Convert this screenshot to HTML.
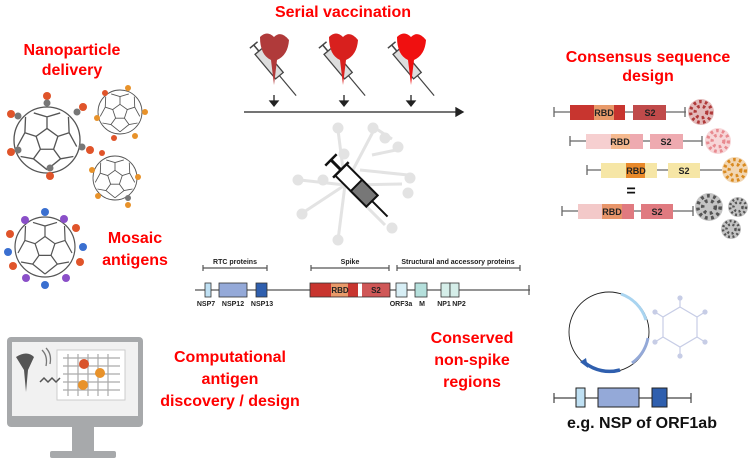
<!DOCTYPE html>
<html><head><meta charset="utf-8"><style>
html,body{margin:0;padding:0;background:#fff}
svg{display:block}
.r{font-family:"Liberation Sans",sans-serif;font-weight:bold;fill:#f00;font-size:16px;text-anchor:middle}
.s{font-family:"Liberation Sans",sans-serif;font-weight:bold;fill:#222;font-size:7px;text-anchor:middle}
.m{font-family:"Liberation Sans",sans-serif;font-weight:bold;fill:#222;font-size:9px;text-anchor:middle}
</style></head><body>
<svg width="750" height="464" viewBox="0 0 750 464" xmlns="http://www.w3.org/2000/svg">
<defs>
<g id="np">
<circle r="1" fill="#fff" stroke="#555" stroke-width="0.04"/>
<polygon points="0,-0.35 0.33,-0.11 0.2,0.28 -0.2,0.28 -0.33,-0.11" fill="none" stroke="#555" stroke-width="0.04"/>
<path d="M0,-0.35L0,-0.7M0.33,-0.11L0.67,-0.22M0.2,0.28L0.41,0.57M-0.2,0.28L-0.41,0.57M-0.33,-0.11L-0.67,-0.22M0,-0.7L0.4,-0.82M0,-0.7L-0.4,-0.82M0.67,-0.22L0.9,0.2M0.67,-0.22L0.65,-0.7M0.41,0.57L0,0.9M0.41,0.57L0.8,0.5M-0.41,0.57L0,0.9M-0.41,0.57L-0.8,0.5M-0.67,-0.22L-0.9,0.2M-0.67,-0.22L-0.65,-0.7" stroke="#555" stroke-width="0.04" fill="none"/>
</g>
<g id="vir"><circle r="1" fill="currentColor" opacity="0.35"/><circle r="0.8" fill="none" stroke="currentColor" stroke-width="0.25" stroke-dasharray="0.2 0.25"/><circle r="0.45" fill="none" stroke="currentColor" stroke-width="0.25" stroke-dasharray="0.2 0.25"/></g>
</defs>

<!-- titles -->
<text class="r" x="343" y="17">Serial vaccination</text>
<text class="r" x="72" y="55">Nanoparticle</text>
<text class="r" x="72" y="75">delivery</text>
<text class="r" x="648" y="62">Consensus sequence</text>
<text class="r" x="648" y="81">design</text>
<text class="r" x="135" y="243">Mosaic</text>
<text class="r" x="135" y="265">antigens</text>
<text class="r" x="230" y="362">Computational</text>
<text class="r" x="230" y="384">antigen</text>
<text class="r" x="230" y="406">discovery / design</text>
<text class="r" x="472" y="343">Conserved</text>
<text class="r" x="472" y="365">non-spike</text>
<text class="r" x="472" y="387">regions</text>

<!-- nanoparticles -->
<g fill="#666">
<use href="#np" transform="translate(47,140) scale(33)"/>
<use href="#np" transform="translate(120,112) scale(22)"/>
<use href="#np" transform="translate(115,178) scale(22)"/>
<use href="#np" transform="translate(45,247) scale(30)"/>
</g>
<g>
<circle cx="47" cy="96" r="4" fill="#e0542a"/><circle cx="47" cy="103" r="3.5" fill="#777"/>
<circle cx="11" cy="114" r="4" fill="#e0542a"/><circle cx="18" cy="116" r="3.5" fill="#777"/>
<circle cx="83" cy="107" r="4" fill="#e0542a"/><circle cx="77" cy="112" r="3.5" fill="#777"/>
<circle cx="11" cy="152" r="4" fill="#e0542a"/><circle cx="18" cy="150" r="3.5" fill="#777"/>
<circle cx="90" cy="150" r="4" fill="#e0542a"/><circle cx="82" cy="147" r="3.5" fill="#777"/>
<circle cx="50" cy="176" r="4" fill="#e0542a"/><circle cx="50" cy="168" r="3.5" fill="#777"/>
<circle cx="105" cy="93" r="3" fill="#e0542a"/><circle cx="128" cy="88" r="3" fill="#e8922a"/><circle cx="145" cy="112" r="3" fill="#e8922a"/><circle cx="114" cy="138" r="3" fill="#e0542a"/><circle cx="135" cy="136" r="3" fill="#e8922a"/><circle cx="97" cy="118" r="3" fill="#e8922a"/>
<circle cx="92" cy="170" r="3" fill="#e8922a"/><circle cx="102" cy="153" r="3" fill="#e0542a"/><circle cx="138" cy="177" r="3" fill="#e8922a"/><circle cx="128" cy="198" r="3" fill="#777"/><circle cx="98" cy="196" r="3" fill="#e8922a"/><circle cx="128" cy="205" r="3" fill="#e8922a"/>
<circle cx="45" cy="212" r="4" fill="#3a6fd0"/><circle cx="25" cy="220" r="4" fill="#8a4fc8"/><circle cx="64" cy="219" r="4" fill="#8a4fc8"/><circle cx="76" cy="228" r="4" fill="#e0542a"/>
<circle cx="10" cy="234" r="4" fill="#e0542a"/><circle cx="8" cy="252" r="4" fill="#3a6fd0"/><circle cx="83" cy="247" r="4" fill="#3a6fd0"/><circle cx="80" cy="262" r="4" fill="#e0542a"/>
<circle cx="13" cy="266" r="4" fill="#e0542a"/><circle cx="26" cy="278" r="4" fill="#8a4fc8"/><circle cx="45" cy="285" r="4" fill="#3a6fd0"/><circle cx="66" cy="278" r="4" fill="#8a4fc8"/>
</g>

<!-- monitor -->
<rect x="7" y="337" width="136" height="90" rx="4" fill="#a7a9ab"/>
<rect x="12" y="342" width="126" height="74" fill="#f1f1f1"/>
<rect x="57" y="350" width="68" height="50" fill="#fff" stroke="#ccc"/>
<path d="M63,358H120M63,366H120M63,374H120M63,382H120M63,390H120M68,354V396M78,354V396M88,354V396M98,354V396M108,354V396" stroke="#aaa" stroke-width="1.2" fill="none"/>
<circle cx="84" cy="364" r="5" fill="#d9532b"/><circle cx="100" cy="373" r="5" fill="#e8922a"/><circle cx="83" cy="385" r="5" fill="#e8922a"/>
<path d="M16,357 Q27,350 34,357 L28,370 L26,392 L24,370Z" fill="#555"/>
<path d="M40,382 l4,-4 4,4 4,-4 4,4 4,-4" stroke="#555" stroke-width="1.5" fill="none"/>
<path d="M42,350 q6,6 4,16 M46,348 q6,6 4,16" stroke="#777" stroke-width="1.3" fill="none"/>
<rect x="72" y="427" width="22" height="25" fill="#a7a9ab"/>
<rect x="50" y="451" width="66" height="7" rx="2" fill="#a7a9ab"/>

<!-- syringes top -->
<g>
<g transform="translate(273,68) rotate(-40)"><rect x="-5" y="-22" width="10" height="32" fill="#ddd" stroke="#444" stroke-width="1.3"/><line x1="0" y1="10" x2="0" y2="36" stroke="#444" stroke-width="1.2"/><line x1="0" y1="-22" x2="0" y2="-30" stroke="#444" stroke-width="1.5"/><line x1="-5" y1="-30" x2="5" y2="-30" stroke="#444" stroke-width="1.5"/></g>
<path d="M260,37 Q267,30 274,37 Q281,30 289,40 Q288,55 277,60 L274,85 L271,60 Q260,55 260,37Z" fill="#b03a3a"/>
<g transform="translate(342,68) rotate(-40)"><rect x="-5" y="-22" width="10" height="32" fill="#ddd" stroke="#444" stroke-width="1.3"/><line x1="0" y1="10" x2="0" y2="36" stroke="#444" stroke-width="1.2"/><line x1="0" y1="-22" x2="0" y2="-30" stroke="#444" stroke-width="1.5"/><line x1="-5" y1="-30" x2="5" y2="-30" stroke="#444" stroke-width="1.5"/></g>
<path d="M329,37 Q336,30 343,37 Q350,30 358,40 Q357,55 346,60 L343,85 L340,60 Q329,55 329,37Z" fill="#d8201e"/>
<g transform="translate(411,68) rotate(-40)"><rect x="-5" y="-22" width="10" height="32" fill="#ddd" stroke="#444" stroke-width="1.3"/><line x1="0" y1="10" x2="0" y2="36" stroke="#444" stroke-width="1.2"/><line x1="0" y1="-22" x2="0" y2="-30" stroke="#444" stroke-width="1.5"/><line x1="-5" y1="-30" x2="5" y2="-30" stroke="#444" stroke-width="1.5"/></g>
<path d="M397,37 Q404,30 411,37 Q418,30 426,40 Q425,55 414,60 L411,85 L408,60 Q397,55 397,37Z" fill="#f01010"/>
</g>
<g stroke="#222" stroke-width="1.3" fill="#222">
<line x1="274" y1="95" x2="274" y2="103"/><path d="M270,101L278,101L274,106Z"/>
<line x1="344" y1="95" x2="344" y2="103"/><path d="M340,101L348,101L344,106Z"/>
<line x1="411" y1="95" x2="411" y2="103"/><path d="M407,101L415,101L411,106Z"/>
<line x1="244" y1="112" x2="458" y2="112"/><path d="M456,108L463,112L456,116Z"/>
</g>

<!-- center syringe + network -->
<g stroke="#e3e3e3" stroke-width="3" fill="#e3e3e3">
<path d="M345,185 L338,130 M345,185 L375,128 M345,185 L300,180 M345,185 L402,184 M345,185 L304,212 M345,185 L338,240 M345,185 L385,225 M375,128 L392,139 M372,155 L396,150 M360,170 L408,175" fill="none"/>
<circle cx="338" cy="128" r="4"/><circle cx="373" cy="128" r="4"/><circle cx="385" cy="138" r="4"/><circle cx="398" cy="147" r="4"/><circle cx="298" cy="180" r="4"/><circle cx="410" cy="178" r="4"/><circle cx="408" cy="193" r="4"/><circle cx="302" cy="214" r="4"/><circle cx="338" cy="240" r="4"/><circle cx="392" cy="228" r="4"/><circle cx="323" cy="180" r="4"/><circle cx="344" cy="154" r="4"/>
</g>
<g transform="translate(355,184) rotate(-45)">
<rect x="-8" y="-20" width="16" height="44" fill="#fff" stroke="#111" stroke-width="2"/>
<rect x="-8" y="2" width="16" height="22" fill="#777" stroke="#111" stroke-width="2"/>
<line x1="0" y1="24" x2="0" y2="46" stroke="#111" stroke-width="2"/>
<line x1="0" y1="-20" x2="0" y2="-34" stroke="#111" stroke-width="3"/>
<line x1="-8" y1="-34" x2="8" y2="-34" stroke="#111" stroke-width="2.5"/>
<line x1="-11" y1="-20" x2="11" y2="-20" stroke="#111" stroke-width="2.5"/>
</g>

<!-- genome -->
<g stroke="#555" stroke-width="1.2">
<line x1="195" y1="290" x2="530" y2="290"/><line x1="529" y1="285" x2="529" y2="295"/>
<line x1="203" y1="268" x2="267" y2="268"/><line x1="203" y1="265" x2="203" y2="271"/><line x1="267" y1="265" x2="267" y2="271"/>
<line x1="311" y1="268" x2="389" y2="268"/><line x1="311" y1="265" x2="311" y2="271"/><line x1="389" y1="265" x2="389" y2="271"/>
<line x1="397" y1="268" x2="520" y2="268"/><line x1="397" y1="265" x2="397" y2="271"/><line x1="520" y1="265" x2="520" y2="271"/>
</g>
<text class="s" x="235" y="264">RTC proteins</text>
<text class="s" x="350" y="264">Spike</text>
<text class="s" x="458" y="264">Structural and accessory proteins</text>
<g stroke="#333" stroke-width="0.8">
<rect x="205" y="283" width="6" height="14" fill="#bfe0f3"/>
<rect x="219" y="283" width="28" height="14" fill="#94a9d8"/>
<rect x="256" y="283" width="11" height="14" fill="#2f5fae"/>
<rect x="310" y="283" width="80" height="14" fill="#c8352f"/>
<rect x="396" y="283" width="11" height="14" fill="#d7eef5"/>
<rect x="415" y="283" width="12" height="14" fill="#b5e0dc"/>
<rect x="441" y="283" width="9" height="14" fill="#d5eee9"/>
<rect x="450" y="283" width="9" height="14" fill="#d5eee9"/>
</g>
<rect x="331" y="283.5" width="17" height="13" fill="#e89a6a"/>
<rect x="358" y="283.5" width="4" height="13" fill="#fff"/>
<rect x="362" y="283.5" width="27.5" height="13" fill="#cf5757"/>
<text class="s" x="340" y="293" style="font-size:8px">RBD</text>
<text class="s" x="376" y="293" style="font-size:8px">S2</text>
<text class="s" x="206" y="306">NSP7</text><text class="s" x="233" y="306">NSP12</text><text class="s" x="262" y="306">NSP13</text>
<text class="s" x="401" y="306">ORF3a</text><text class="s" x="422" y="306">M</text><text class="s" x="444" y="306">NP1</text><text class="s" x="459" y="306">NP2</text>

<!-- consensus rows -->
<g stroke="#666" stroke-width="1.3">
<line x1="554" y1="112" x2="686" y2="112"/><line x1="554" y1="107" x2="554" y2="117"/><line x1="685" y1="107" x2="685" y2="117"/>
<line x1="570" y1="141" x2="702" y2="141"/><line x1="570" y1="136" x2="570" y2="146"/><line x1="702" y1="136" x2="702" y2="146"/>
<line x1="587" y1="170" x2="722" y2="170"/><line x1="587" y1="165" x2="587" y2="175"/>
<line x1="562" y1="211" x2="693" y2="211"/><line x1="562" y1="206" x2="562" y2="216"/><line x1="693" y1="206" x2="693" y2="216"/>
</g>
<rect x="570" y="105" width="55" height="15" fill="#c8352f"/><rect x="594" y="105" width="20" height="15" fill="#e89a6a"/><rect x="633" y="105" width="33" height="15" fill="#c04a4a"/>
<rect x="586" y="134" width="57" height="15" fill="#f6cfd0"/><rect x="611" y="134" width="19" height="15" fill="#f5b98f"/><rect x="630" y="134" width="13" height="15" fill="#eeaab0"/><rect x="650" y="134" width="33" height="15" fill="#eeaab0"/>
<rect x="601" y="163" width="56" height="15" fill="#f6e6a6"/><rect x="626" y="163" width="19" height="15" fill="#e8892a"/><rect x="668" y="163" width="32" height="15" fill="#f6e6a6"/>
<rect x="578" y="204" width="56" height="15" fill="#f3c9c9"/><rect x="602" y="204" width="20" height="15" fill="#e8956a"/><rect x="622" y="204" width="12" height="15" fill="#e07a80"/><rect x="641" y="204" width="32" height="15" fill="#e07a80"/>
<text class="m" x="604" y="116">RBD</text><text class="m" x="650" y="116">S2</text>
<text class="m" x="620" y="145">RBD</text><text class="m" x="666" y="145">S2</text>
<text class="m" x="636" y="174">RBD</text><text class="m" x="684" y="174">S2</text>
<text class="m" x="612" y="215">RBD</text><text class="m" x="657" y="215">S2</text>
<text x="631" y="196" style="font-family:'Liberation Sans',sans-serif;font-weight:bold;font-size:16px;text-anchor:middle;fill:#111">=</text>
<use href="#vir" transform="translate(701,112) scale(13)" style="color:#b03a3a"/>
<use href="#vir" transform="translate(718,141) scale(13)" style="color:#e88a90"/>
<use href="#vir" transform="translate(735,170) scale(13)" style="color:#d98a20"/>
<use href="#vir" transform="translate(709,207) scale(14)" style="color:#555"/>
<use href="#vir" transform="translate(738,207) scale(10)" style="color:#555"/>
<use href="#vir" transform="translate(731,229) scale(10)" style="color:#555"/>

<!-- plasmid -->
<circle cx="609" cy="332" r="40" fill="none" stroke="#222" stroke-width="0.9"/>
<path d="M621,294 A40,40 0 0 1 646,320" fill="none" stroke="#a9d4f0" stroke-width="3"/>
<path d="M648,338 A40,40 0 0 1 632,363" fill="none" stroke="#94a9d8" stroke-width="3"/>
<path d="M620,370 A40,40 0 0 1 585,363" fill="none" stroke="#2f5fae" stroke-width="3.5"/>
<path d="M586,358 L580,362 L588,368Z" fill="#2f5fae"/>
<g stroke="#c7cde6" stroke-width="1.2" fill="#c7cde6">
<polygon points="680,307 697,317 697,337 680,347 663,337 663,317" fill="none"/>
<path d="M680,307V298M697,317L705,312M697,337L705,342M680,347V356M663,337L655,342M663,317L655,312"/>
<circle cx="680" cy="298" r="2"/><circle cx="705" cy="312" r="2"/><circle cx="705" cy="342" r="2"/><circle cx="680" cy="356" r="2"/><circle cx="655" cy="342" r="2"/><circle cx="655" cy="312" r="2"/>
</g>
<g stroke="#444" stroke-width="1.2">
<line x1="554" y1="398" x2="691" y2="398"/><line x1="554" y1="393" x2="554" y2="403"/><line x1="691" y1="393" x2="691" y2="403"/>
</g>
<g stroke="#222" stroke-width="1">
<rect x="576" y="388" width="9" height="19" fill="#bfe0f3"/>
<rect x="598" y="388" width="41" height="19" fill="#94a9d8"/>
<rect x="652" y="388" width="15" height="19" fill="#2f5fae"/>
</g>
<text x="642" y="428" style="font-family:'Liberation Sans',sans-serif;font-weight:bold;font-size:16px;text-anchor:middle;fill:#111">e.g. NSP of ORF1ab</text>
</svg>
</body></html>
